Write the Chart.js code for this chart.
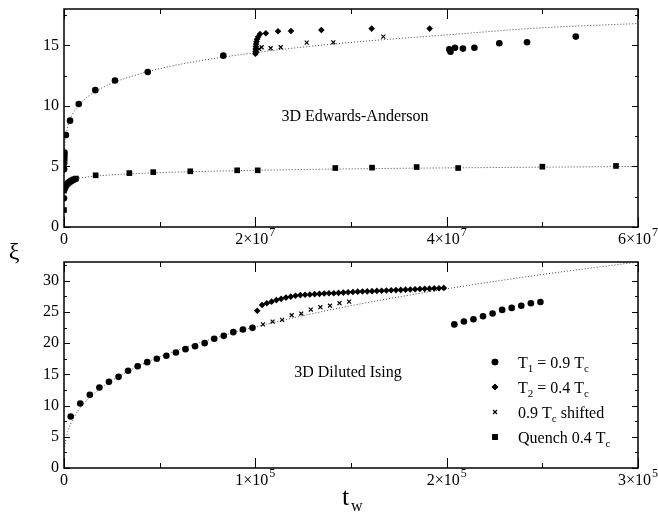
<!DOCTYPE html>
<html lang="en">
<head>
<meta charset="UTF-8">
<title>Correlation length vs waiting time</title>
<script src="https://cdn.jsdelivr.net/npm/chart.js"></script>
<style>
  body { margin: 0; background: #fff; }
  .wrap { position: relative; width: 658px; height: 523px; }
  canvas { position: absolute; left: 0; }
  #topChart { top: 0; }
  #bottomChart { top: 236px; }
</style>
</head>
<body>
<div class="wrap">
  <canvas id="topChart" width="658" height="250"></canvas>
  <canvas id="bottomChart" width="658" height="287"></canvas>
</div>
<script>
// ---- top panel: 3D Edwards-Anderson ----
const eaXTicks = [0, 2e7, 4e7, 6e7];
// [mantissa text, exponent]
const eaXLabels = [['0', ''], ['2×10', '7'], ['4×10', '7'], ['6×10', '7']];
const eaYTicks = [0, 5, 10, 15];

const eaT1X = [0, 5e3, 1e4, 2e4, 3e4, 4e4, 5e4, 2e5, 6.3e5, 1.54e6, 3.27e6, 5.33e6, 8.75e6, 1.665e7,
  4.027e7, 4.04e7, 4.087e7, 4.17e7, 4.29e7, 4.55e7, 4.84e7, 5.35e7];
const eaT1Y = [2.37, 4.76, 5.26, 5.5, 5.7, 5.95, 6.15, 7.6, 8.78, 10.16, 11.3, 12.1, 12.8, 14.15,
  14.67, 14.48, 14.8, 14.73, 14.8, 15.17, 15.25, 15.72];

const eaT2X = [2.001e7, 2.002e7, 2.003e7, 2.005e7, 2.008e7, 2.012e7, 2.018e7, 2.03e7, 2.049e7, 2.11e7,
  2.237e7, 2.373e7, 2.69e7, 3.216e7, 3.822e7];
const eaT2Y = [14.3, 14.5, 14.7, 14.9, 15.1, 15.3, 15.5, 15.7, 15.94, 16.0, 16.16, 16.18, 16.27, 16.38, 16.38];

const eaShiftX = [2.005e7, 2.02e7, 2.04e7, 2.066e7, 2.16e7, 2.265e7, 2.537e7, 2.815e7, 3.338e7];
const eaShiftY = [14.35, 14.55, 14.7, 14.84, 14.76, 14.84, 15.22, 15.25, 15.72];

const eaQuenchX = [0, 0, 5e4, 1e5, 1.5e5, 2e5, 3e5, 4e5, 5e5, 6e5, 7e5, 8e5, 9e5, 1e6, 1.1e6, 1.25e6,
  3.31e6, 6.83e6, 9.33e6, 1.32e7, 1.81e7, 2.025e7, 2.836e7, 3.22e7, 3.686e7, 4.12e7, 5.0e7, 5.77e7];
const eaQuenchY = [1.4, 3.0, 3.15, 3.25, 3.35, 3.42, 3.52, 3.6, 3.67, 3.73, 3.78, 3.83, 3.87, 3.91, 3.95, 4.0,
  4.27, 4.45, 4.53, 4.6, 4.68, 4.68, 4.87, 4.9, 4.95, 4.87, 4.98, 5.04];

// dotted fits
const eaFitX = [2e4, 1e5, 3e5, 6e5, 1e6, 2e6, 4e6, 8e6, 1.2e7, 2e7, 3e7, 4e7, 5e7, 6e7];
const eaFitY = [5.47, 6.86, 8.0, 8.81, 9.47, 10.43, 11.5, 12.66, 13.41, 14.4, 15.24, 15.86, 16.45, 16.8];
const eaFitQX = [1.25e6, 3e6, 6e6, 1e7, 2e7, 3e7, 4e7, 5e7, 6e7];
const eaFitQY = [4.0, 4.18, 4.35, 4.49, 4.68, 4.8, 4.88, 4.94, 5.0];

// ---- bottom panel: 3D Diluted Ising ----
const diXTicks = [0, 1e5, 2e5, 3e5];
const diXLabels = [['0', ''], ['1×10', '5'], ['2×10', '5'], ['3×10', '5']];
const diYTicks = [0, 5, 10, 15, 20, 25, 30];

const diT1X = [3500, 8500, 13500, 18500, 23500, 28500, 33500, 38500, 43500, 48500,
  53500, 58500, 63500, 68500, 73500, 78500, 83500, 88500, 93500, 98500,
  204000, 209000, 214000, 219000, 224000, 229000, 234000, 239000, 244000, 249000];
const diT1Y = [8.26, 10.34, 11.73, 12.9, 13.8, 14.6, 15.57, 16.3, 16.96, 17.5,
  17.97, 18.5, 19.04, 19.5, 20.0, 20.7, 21.17, 21.76, 22.18, 22.45,
  23.0, 23.46, 23.84, 24.3, 24.74, 25.33, 25.65, 26.0, 26.4, 26.6];

const diT2X = [101000, 103500, 106000, 108500, 111000, 113500, 116000, 118500, 121000, 123500,
  126000, 128500, 131000, 133500, 136000, 138500, 141000, 143500, 146000, 148500,
  151000, 153500, 156000, 158500, 161000, 163500, 166000, 168500, 171000, 173500,
  176000, 178500, 181000, 183500, 186000, 188500, 191000, 193500, 196000, 198500];
const diT2Y = [25.2, 26.1, 26.4, 26.65, 26.9, 27.1, 27.3, 27.45, 27.6, 27.7,
  27.75, 27.8, 27.85, 27.9, 27.95, 28.0, 28.0, 28.05, 28.1, 28.15,
  28.2, 28.25, 28.28, 28.3, 28.33, 28.37, 28.4, 28.43, 28.47, 28.5,
  28.53, 28.57, 28.6, 28.63, 28.67, 28.7, 28.73, 28.77, 28.8, 28.85];

const diShiftX = [104000, 109000, 114000, 119000, 124000, 129000, 134000, 139000, 144000, 149000];
const diShiftY = [23.0, 23.46, 23.73, 24.48, 24.74, 25.38, 25.76, 26.0, 26.4, 26.66];

const diFitX = [0, 50, 200, 500, 1000, 2000, 5000, 1e4, 2e4, 3e4, 4e4, 6e4, 8e4, 1e5, 1.25e5, 1.5e5, 2e5, 2.5e5, 3e5];
const diFitY = [0, 1.64, 2.65, 3.6, 4.6, 5.86, 8.0, 10.2, 12.97, 14.9, 16.5, 18.95, 20.93, 22.6, 24.4, 26.0, 28.7, 31.0, 33.0];

const SERIF = "'Liberation Serif', 'DejaVu Serif', serif";

function pts(xs, ys) {
  return xs.map((x, i) => ({ x: x, y: ys[i] }));
}

function markers(xs, ys, style, r) {
  return {
    data: pts(xs, ys),
    pointStyle: style,
    pointRadius: r,
    pointBackgroundColor: '#000',
    pointBorderColor: '#000',
    pointBorderWidth: style === 'crossRot' ? 1.2 : 0,
    showLine: false,
    order: 0
  };
}

function fitLine(xs, ys) {
  return {
    data: pts(xs, ys),
    showLine: true,
    borderColor: '#444',
    borderWidth: 1,
    borderDash: [1, 2],
    pointRadius: 0,
    cubicInterpolationMode: 'monotone',
    order: 5
  };
}

// text with subscripts: parts = [[text, isSub], ...]
function richText(ctx, parts, x, y, size) {
  for (const [s, sub] of parts) {
    ctx.font = (sub ? Math.round(size * 0.7) : size) + 'px ' + SERIF;
    ctx.fillText(s, x, sub ? y + size * 0.28 : y);
    x += ctx.measureText(s).width;
  }
}

// frame with inward ticks on all four sides, x tick labels, plus extra drawing
function framePlugin(xTicks, xLabels, xMinor, yTicks, yMinor, extra) {
  return {
    id: 'frame',
    afterDraw(chart) {
      const { ctx, chartArea: a, scales } = chart;
      const x = scales.x, y = scales.y;
      ctx.save();
      ctx.strokeStyle = '#000';
      ctx.lineWidth = 1;
      ctx.beginPath();
      for (let v = x.min; v <= x.max + xMinor / 10; v += xMinor) {
        const px = Math.round(x.getPixelForValue(v)) + 0.5;
        const major = xTicks.some(t => Math.abs(t - v) < xMinor / 10);
        const len = major ? 10 : 5;
        ctx.moveTo(px, a.bottom); ctx.lineTo(px, a.bottom - len);
        ctx.moveTo(px, a.top); ctx.lineTo(px, a.top + len);
      }
      for (let v = y.min; v <= y.max + yMinor / 10; v += yMinor) {
        const py = Math.round(y.getPixelForValue(v)) + 0.5;
        const major = yTicks.some(t => Math.abs(t - v) < yMinor / 10);
        const len = major ? 6 : 3;
        ctx.moveTo(a.left, py); ctx.lineTo(a.left + len, py);
        ctx.moveTo(a.right, py); ctx.lineTo(a.right - len, py);
      }
      ctx.stroke();
      ctx.lineWidth = 1.5;
      ctx.strokeRect(a.left, a.top, a.right - a.left, a.bottom - a.top);
      ctx.fillStyle = '#000';

      // x tick labels with superscript exponent
      ctx.textAlign = 'left';
      ctx.textBaseline = 'alphabetic';
      xTicks.forEach((v, i) => {
        const [base, exp] = xLabels[i];
        ctx.font = '16px ' + SERIF;
        const wb = ctx.measureText(base).width;
        ctx.font = '12px ' + SERIF;
        const we = exp ? ctx.measureText(exp).width + 1 : 0;
        const x0 = x.getPixelForValue(v) - (wb + we) / 2;
        const by = a.bottom + 17;
        ctx.font = '16px ' + SERIF;
        ctx.fillText(base, x0, by);
        if (exp) {
          ctx.font = '12px ' + SERIF;
          ctx.fillText(exp, x0 + wb + 1, by - 8);
        }
      });
      extra(ctx, chart);
      ctx.restore();
    }
  };
}

function axes(xMax, yMax, xTicks, yTicks, xHeight) {
  return {
    x: {
      type: 'linear', min: 0, max: xMax,
      afterBuildTicks: s => { s.ticks = xTicks.map(v => ({ value: v })); },
      afterFit: s => { s.height = xHeight; s.paddingLeft = 0; s.paddingRight = 0; },
      ticks: { display: false },
      grid: { display: false, drawTicks: false },
      border: { display: false }
    },
    y: {
      type: 'linear', min: 0, max: yMax,
      afterBuildTicks: s => { s.ticks = yTicks.map(v => ({ value: v })); },
      afterFit: s => { s.width = 64; s.paddingTop = 0; s.paddingBottom = 0; },
      ticks: {
        padding: 5, color: '#000', font: { family: SERIF, size: 16 }
      },
      grid: { display: false, drawTicks: false },
      border: { display: false }
    }
  };
}

const common = {
  responsive: false,
  animation: false,
  events: [],
  plugins: { legend: { display: false }, tooltip: { enabled: false } }
};

// top chart
new Chart(document.getElementById('topChart'), {
  type: 'scatter',
  data: {
    datasets: [
      fitLine(eaFitX, eaFitY),
      fitLine(eaFitQX, eaFitQY),
      markers(eaQuenchX, eaQuenchY, 'rect', 4),
      markers(eaShiftX, eaShiftY, 'crossRot', 2.8),
      markers(eaT2X, eaT2Y, 'rectRot', 3.3),
      markers(eaT1X, eaT1Y, 'circle', 3.3)
    ]
  },
  options: Object.assign({}, common, {
    layout: { padding: { top: 9, right: 20, left: 0, bottom: 0 } },
    scales: axes(6e7, 18, eaXTicks, eaYTicks, 23)
  }),
  plugins: [framePlugin(eaXTicks, eaXLabels, 1e7, eaYTicks, 2.5, (ctx) => {
    ctx.font = '16px ' + SERIF;
    ctx.textAlign = 'center';
    ctx.textBaseline = 'middle';
    ctx.fillText('3D Edwards-Anderson', 355, 117);
  })]
});

// bottom chart
new Chart(document.getElementById('bottomChart'), {
  type: 'scatter',
  data: {
    datasets: [
      fitLine(diFitX, diFitY),
      markers(diShiftX, diShiftY, 'crossRot', 2.8),
      markers(diT2X, diT2Y, 'rectRot', 3.3),
      markers(diT1X, diT1Y, 'circle', 3.3)
    ]
  },
  options: Object.assign({}, common, {
    layout: { padding: { top: 26, right: 20, left: 0, bottom: 0 } },
    scales: axes(3e5, 33, diXTicks, diYTicks, 55)
  }),
  plugins: [framePlugin(diXTicks, diXLabels, 5e4, diYTicks, 2.5, (ctx) => {
    ctx.textAlign = 'center';
    ctx.textBaseline = 'middle';
    ctx.font = '16px ' + SERIF;
    ctx.fillText('3D Diluted Ising', 348, 137);

    // axis titles
    ctx.font = '24px ' + SERIF;
    ctx.fillText('ξ', 14, 17);
    ctx.textAlign = 'left';
    ctx.textBaseline = 'alphabetic';
    ctx.font = '26px ' + SERIF;
    ctx.fillText('t', 342, 269);
    ctx.font = '16px ' + SERIF;
    ctx.fillText('w', 351, 275);

    // legend
    const rows = [
      { style: 'circle', r: 3.3, parts: [['T', 0], ['1', 1], [' = 0.9 T', 0], ['c', 1]] },
      { style: 'rectRot', r: 3.3, parts: [['T', 0], ['2', 1], [' = 0.4 T', 0], ['c', 1]] },
      { style: 'crossRot', r: 2.8, parts: [['0.9 T', 0], ['c', 1], [' shifted', 0]] },
      { style: 'rect', r: 4, parts: [['Quench 0.4 T', 0], ['c', 1]] }
    ];
    rows.forEach((row, i) => {
      const my = 126 + i * 25;
      ctx.lineWidth = 1.2;
      Chart.helpers.drawPoint(ctx, { pointStyle: row.style, radius: row.r, borderWidth: row.style === 'crossRot' ? 1.2 : 0 }, 495, my);
      ctx.fill();
      richText(ctx, row.parts, 518, my + 5.5, 16);
    });
  })]
});
</script>
</body>
</html>
